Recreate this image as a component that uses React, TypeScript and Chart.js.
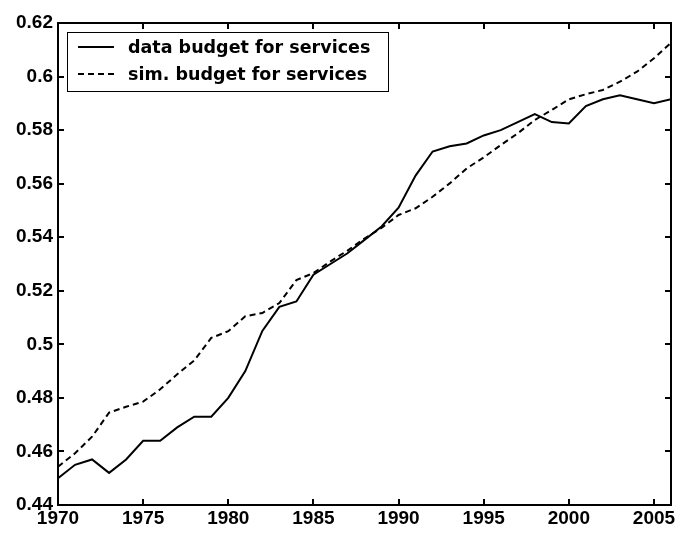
import React, { useEffect, useRef } from "react";
import { Chart, registerables } from "chart.js";

Chart.register(...registerables);

// Years on the horizontal axis
const years = [
  1970, 1971, 1972, 1973, 1974, 1975, 1976, 1977, 1978, 1979,
  1980, 1981, 1982, 1983, 1984, 1985, 1986, 1987, 1988, 1989,
  1990, 1991, 1992, 1993, 1994, 1995, 1996, 1997, 1998, 1999,
  2000, 2001, 2002, 2003, 2004, 2005, 2006,
];

// Observed budget share spent on services
const dataBudget = [
  0.450, 0.455, 0.457, 0.452, 0.457, 0.464, 0.464, 0.469, 0.473, 0.473,
  0.480, 0.490, 0.505, 0.514, 0.516, 0.526, 0.530, 0.534, 0.539, 0.544,
  0.551, 0.563, 0.572, 0.574, 0.575, 0.578, 0.580, 0.583, 0.586, 0.583,
  0.5825, 0.589, 0.5915, 0.593, 0.5915, 0.590, 0.5915,
];

// Simulated budget share spent on services
const simBudget = [
  0.4543, 0.4593, 0.4655, 0.4745, 0.4767, 0.4786, 0.4832, 0.4888, 0.494, 0.5024,
  0.5049, 0.5105, 0.5117, 0.5154, 0.524, 0.5266, 0.531, 0.535, 0.5395, 0.5435,
  0.5483, 0.5508, 0.5551, 0.5601, 0.5657, 0.5698, 0.5744, 0.5788, 0.5838, 0.5875,
  0.5915, 0.5934, 0.595, 0.5981, 0.6018, 0.6068, 0.6126,
];

const seriesLabels = ["data budget for services", "sim. budget for services"];

const xTicks = [1970, 1975, 1980, 1985, 1990, 1995, 2000, 2005];
const yTicks = [0.44, 0.46, 0.48, 0.5, 0.52, 0.54, 0.56, 0.58, 0.6, 0.62];

const DASH = [6, 4];
const TICK_FONT = { family: '"Liberation Sans", Arial, sans-serif', size: 19, weight: "bold" as const };

// Box around the plot with inward tick marks on all four sides
const framePlugin = {
  id: "frame",
  afterDatasetsDraw(chart: any) {
    const { ctx, chartArea: a, scales } = chart;
    const len = 6;
    ctx.save();
    ctx.strokeStyle = "#000";
    ctx.lineWidth = 2;
    ctx.setLineDash([]);
    ctx.strokeRect(a.left, a.top, a.right - a.left, a.bottom - a.top);
    ctx.beginPath();
    for (const t of scales.x.ticks) {
      const px = Math.round(scales.x.getPixelForValue(t.value));
      ctx.moveTo(px, a.bottom);
      ctx.lineTo(px, a.bottom - len);
      ctx.moveTo(px, a.top);
      ctx.lineTo(px, a.top + len);
    }
    for (const t of scales.y.ticks) {
      const py = Math.round(scales.y.getPixelForValue(t.value));
      ctx.moveTo(a.left, py);
      ctx.lineTo(a.left + len, py);
      ctx.moveTo(a.right, py);
      ctx.lineTo(a.right - len, py);
    }
    ctx.stroke();
    ctx.restore();
  },
};

// Boxed legend in the upper-left corner of the plot
const legendPlugin = {
  id: "boxLegend",
  afterDraw(chart: any) {
    const { ctx, chartArea: a } = chart;
    const bx = a.left + 9;
    const by = a.top + 9;
    const bw = 321;
    const bh = 59;
    ctx.save();
    ctx.fillStyle = "#fff";
    ctx.fillRect(bx, by, bw, bh);
    ctx.strokeStyle = "#000";
    ctx.lineWidth = 1;
    ctx.strokeRect(bx + 0.5, by + 0.5, bw, bh);
    ctx.font = 'bold 17.5px "DejaVu Sans", Verdana, sans-serif';
    ctx.textBaseline = "middle";
    ctx.fillStyle = "#000";
    chart.data.datasets.forEach((ds: any, i: number) => {
      const cy = by + 15 + i * 27;
      ctx.beginPath();
      ctx.lineWidth = 2;
      ctx.setLineDash(ds.borderDash || []);
      ctx.moveTo(a.left + 20, cy);
      ctx.lineTo(a.left + 56, cy);
      ctx.stroke();
      ctx.setLineDash([]);
      ctx.fillText(ds.label, a.left + 70, cy + 1);
    });
    ctx.restore();
  },
};

export default function App() {
  const canvasRef = useRef<HTMLCanvasElement | null>(null);

  useEffect(() => {
    if (!canvasRef.current) return;
    const chart = new Chart(canvasRef.current, {
      type: "line",
      data: {
        datasets: [
          {
            label: seriesLabels[0],
            data: years.map((yr, i) => ({ x: yr, y: dataBudget[i] })),
            borderColor: "#000",
            borderWidth: 2,
            pointRadius: 0,
            tension: 0,
            fill: false,
          },
          {
            label: seriesLabels[1],
            data: years.map((yr, i) => ({ x: yr, y: simBudget[i] })),
            borderColor: "#000",
            borderWidth: 2,
            borderDash: DASH,
            pointRadius: 0,
            tension: 0,
            fill: false,
          },
        ],
      },
      options: {
        animation: false,
        responsive: false,
        devicePixelRatio: 1,
        layout: { padding: { top: 23, right: 7, left: 0, bottom: 0 } },
        plugins: {
          legend: { display: false },
          tooltip: { enabled: false },
          title: { display: false },
        },
        scales: {
          x: {
            type: "linear",
            min: 1970,
            max: 2006,
            afterBuildTicks: (s: any) => {
              s.ticks = xTicks.map((v) => ({ value: v }));
            },
            afterFit: (s: any) => {
              s.height = 28;
            },
            ticks: {
              font: TICK_FONT,
              color: "#000",
              padding: 2,
              maxRotation: 0,
              autoSkip: false,
              callback: (v: any) => String(v),
            },
            grid: { display: false, drawTicks: false },
            border: { display: false },
          },
          y: {
            type: "linear",
            min: 0.44,
            max: 0.62,
            afterBuildTicks: (s: any) => {
              s.ticks = yTicks.map((v) => ({ value: v }));
            },
            afterFit: (s: any) => {
              s.width = 58;
            },
            ticks: {
              font: TICK_FONT,
              color: "#000",
              padding: 5,
              autoSkip: false,
              callback: (v: any) => String(Number(Number(v).toFixed(2))),
            },
            grid: { display: false, drawTicks: false },
            border: { display: false },
          },
        },
      },
      plugins: [framePlugin, legendPlugin],
    });
    return () => chart.destroy();
  }, []);

  return (
    <div style={{ position: "fixed", left: 0, top: 0, width: 678, height: 533, background: "#fff" }}>
      <canvas ref={canvasRef} width={678} height={533} />
    </div>
  );
}
